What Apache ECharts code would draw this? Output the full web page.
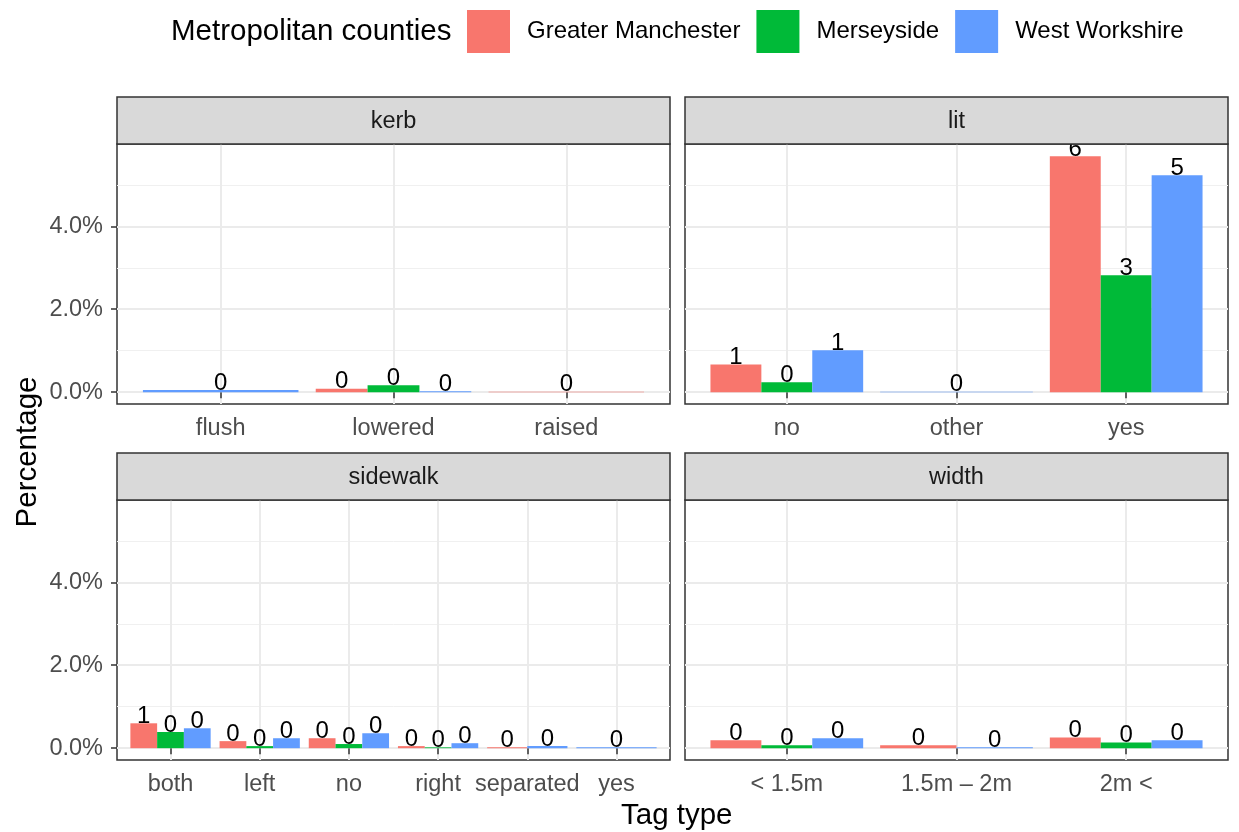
<!DOCTYPE html>
<html>
<head>
<meta charset="utf-8">
<script src="https://cdn.jsdelivr.net/npm/echarts@6/dist/echarts.min.js"></script>
<style>
  html, body { margin: 0; padding: 0; background: #fff; }
  #chart { width: 1239px; height: 832px; }
</style>
</head>
<body>
<div id="chart"></div>
<script>
// 数据
const counties = ["Greater Manchester", "Merseyside", "West Workshire"];
const colors = ["#F8766D", "#00BA38", "#619CFF"];
const panels = ["kerb", "lit", "sidewalk", "width"];

const kerbCats = ["flush", "lowered", "raised"];
const kerbGM = [null, 0.08, 0.01];
const kerbMS = [null, 0.17, null];
const kerbWY = [0.05, 0.02, null];

const litCats = ["no", "other", "yes"];
const litGM = [0.67, null, 5.69];
const litMS = [0.24, null, 2.82];
const litWY = [1.01, 0.01, 5.23];

const sidewalkCats = ["both", "left", "no", "right", "separated", "yes"];
const sidewalkGM = [0.6, 0.17, 0.24, 0.05, 0.02, null];
const sidewalkMS = [0.39, 0.05, 0.1, 0.02, null, null];
const sidewalkWY = [0.48, 0.24, 0.36, 0.12, 0.05, 0.02];

const widthCats = ["< 1.5m", "1.5m \u2013 2m", "2m <"];
const widthGM = [0.19, 0.07, 0.26];
const widthMS = [0.07, null, 0.14];
const widthWY = [0.24, 0.02, 0.19];

const yTicks = [0, 2, 4];
const yMinor = [1, 3, 5];

const panelCats = [kerbCats, litCats, sidewalkCats, widthCats];
const panelVals = [
  [kerbGM, kerbMS, kerbWY],
  [litGM, litMS, litWY],
  [sidewalkGM, sidewalkMS, sidewalkWY],
  [widthGM, widthMS, widthWY],
];

const FONT = "Liberation Sans";
const yMin = -0.285, yMax = 5.985;

// 面板位置
const boxes = [
  { left: 117, top: 144, width: 553, height: 260 },
  { left: 685, top: 144, width: 543, height: 260 },
  { left: 117, top: 500, width: 553, height: 260 },
  { left: 685, top: 500, width: 543, height: 260 },
];

function renderBar(params, api) {
  const x = api.value(0), v = api.value(1), slot = api.value(2), n = api.value(3);
  const w = 0.9 / n;
  const x0 = x - 0.45 + slot * w;
  const p0 = api.coord([x0, 0]);
  const p1 = api.coord([x0 + w, v]);
  return {
    type: "group",
    children: [
      {
        type: "rect",
        shape: { x: p0[0], y: p1[1], width: p1[0] - p0[0], height: p0[1] - p1[1] },
        style: { fill: api.visual("color") },
      },
      {
        type: "text",
        z2: 10,
        style: {
          text: String(Math.round(v)),
          x: (p0[0] + p1[0]) / 2,
          y: p1[1] + 5,
          align: "center",
          verticalAlign: "bottom",
          fill: "#000",
          fontSize: 24,
          fontFamily: FONT,
        },
      },
    ],
  };
}

const grid = [], xAxis = [], yAxis = [], series = [], graphic = [];

panels.forEach(function (name, p) {
  const cats = panelCats[p];
  const vals = panelVals[p];
  const b = boxes[p];
  grid.push({
    left: b.left, top: b.top, width: b.width, height: b.height,
    show: true, borderColor: "#333", borderWidth: 1.5, backgroundColor: "#fff",
  });
  const xs = cats.map(function (c, i) { return i + 1; });
  xAxis.push({
    type: "value", gridIndex: p, min: 0.4, max: cats.length + 0.6,
    axisLine: { show: false },
    axisTick: { show: true, customValues: xs, length: 6, lineStyle: { color: "#333", width: 1.5 } },
    axisLabel: {
      customValues: xs, margin: 13, color: "#4D4D4D", fontSize: 23.5, fontFamily: FONT,
      formatter: function (v) { return cats[Math.round(v) - 1] || ""; },
    },
    splitLine: { show: true, lineStyle: { color: "#EBEBEB", width: 2 } },
  });
  yAxis.push({
    type: "value", gridIndex: p, min: yMin, max: yMax,
    axisLine: { show: false },
    axisTick: { show: p % 2 === 0, customValues: yTicks, length: 6, lineStyle: { color: "#333", width: 1.5 } },
    axisLabel: {
      show: p % 2 === 0, customValues: yTicks, margin: 14, color: "#4D4D4D", fontSize: 23.5, fontFamily: FONT,
      formatter: function (v) { return v.toFixed(1) + "%"; },
    },
    splitLine: { show: true, lineStyle: { color: "#EBEBEB", width: 2 } },
  });
  yAxis.push({
    type: "value", gridIndex: p, min: yMin, max: yMax, position: "left",
    axisLine: { show: false },
    axisTick: { show: false, customValues: yMinor },
    axisLabel: { show: false, customValues: yMinor },
    splitLine: { show: true, lineStyle: { color: "#F0F0F0", width: 1 } },
  });

  // 计算 dodge 位置
  const counts = cats.map(function (c, i) {
    return vals.filter(function (arr) { return arr[i] != null; }).length;
  });
  const used = cats.map(function () { return 0; });
  vals.forEach(function (arr, g) {
    const data = [];
    arr.forEach(function (v, i) {
      if (v == null) return;
      data.push([i + 1, v, used[i], counts[i]]);
      used[i]++;
    });
    series.push({
      name: counties[g], type: "custom", xAxisIndex: p, yAxisIndex: 2 * p,
      itemStyle: { color: colors[g] }, encode: { x: 0, y: 1 },
      renderItem: renderBar, data: data, z: 3,
    });
  });

  // 分面标题
  graphic.push(
    { type: "rect", z: 100, shape: { x: b.left, y: b.top - 47, width: b.width, height: 47 },
      style: { fill: "#D9D9D9", stroke: "#333", lineWidth: 1.5 } },
    { type: "text", z: 101, x: b.left + b.width / 2, y: b.top - 22,
      style: { text: name, align: "center", verticalAlign: "middle", fill: "#1A1A1A", fontSize: 23.5, fontFamily: FONT } }
  );
});

graphic.push(
  { type: "text", left: 171, top: 17, style: { text: "Metropolitan counties", fill: "#000", fontSize: 29.5, fontFamily: FONT } },
  { type: "text", left: 621, top: 801, style: { text: "Tag type", fill: "#000", fontSize: 29.5, fontFamily: FONT } },
  { type: "text", x: 28, y: 452, rotation: Math.PI / 2,
    style: { text: "Percentage", align: "center", verticalAlign: "middle", fill: "#000", fontSize: 29.5, fontFamily: FONT } }
);

let myChart = echarts.init(document.getElementById("chart"));
myChart.setOption({
  animation: false,
  backgroundColor: "#fff",
  legend: {
    data: counties, left: 462, top: 5, itemWidth: 43, itemHeight: 43, itemGap: 16,
    icon: "rect", selectedMode: false,
    textStyle: { fontSize: 24, color: "#000", fontFamily: FONT, padding: [0, 0, 0, 12] },
  },
  grid: grid,
  xAxis: xAxis,
  yAxis: yAxis,
  series: series,
  graphic: graphic,
});
</script>
</body>
</html>
